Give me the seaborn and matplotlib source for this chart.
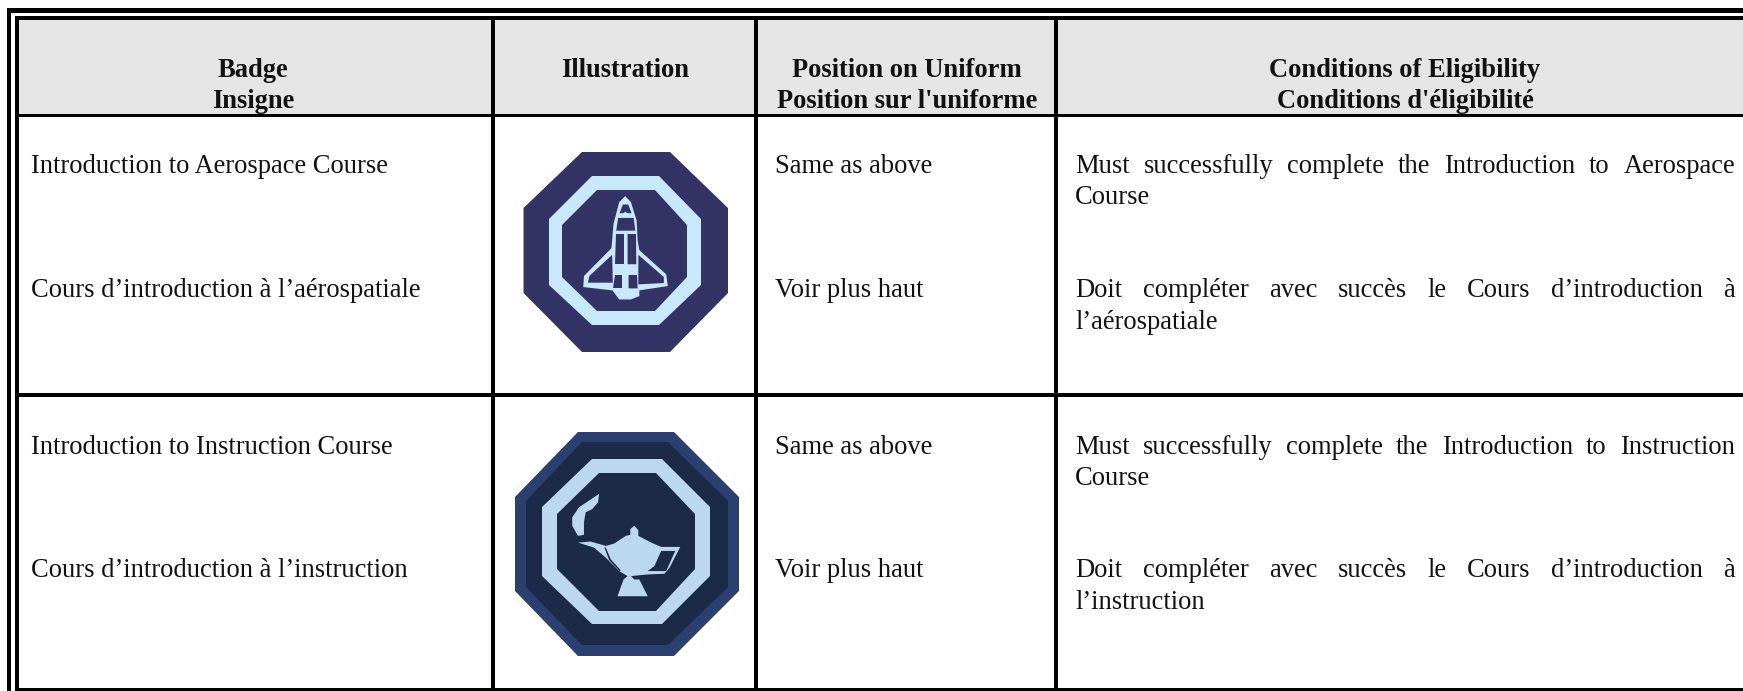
import matplotlib
matplotlib.use('Agg')
import matplotlib.pyplot as plt
from matplotlib.patches import Polygon, Rectangle
import seaborn as sns

headers = [['Badge', 'Insigne'], ['Illustration'],
           ['Position on Uniform', "Position sur l'uniforme"],
           ['Conditions of Eligibility', "Conditions d'éligibilité"]]
badge_en = ['Introduction to Aerospace Course', 'Introduction to Instruction Course']
badge_fr = ['Cours d’introduction à l’aérospatiale', 'Cours d’introduction à l’instruction']
position_en = ['Same as above', 'Same as above']
position_fr = ['Voir plus haut', 'Voir plus haut']
cond_en = [['Must successfully complete the Introduction to Aerospace', 'Course'],
           ['Must successfully complete the Introduction to Instruction', 'Course']]
cond_fr = [['Doit compléter avec succès le Cours d’introduction à', 'l’aérospatiale'],
           ['Doit compléter avec succès le Cours d’introduction à', 'l’instruction']]

# badge outlines (crop pixels, 2.98x)
shuttle_body = [(403, 197), (420, 215), (437, 270), (440, 330), (445, 358), (525, 430), (530, 465),
                (445, 478), (445, 495), (420, 505), (385, 505), (365, 478), (278, 468), (280, 435),
                (362, 352), (368, 280), (385, 215)]
shuttle_holes = [[(396, 222), (412, 222), (422, 248), (386, 248)],
                 [(382, 262), (428, 262), (433, 300), (376, 300)],
                 [(374, 310), (398, 310), (398, 400), (372, 400)],
                 [(410, 310), (435, 310), (436, 400), (410, 400)],
                 [(364, 372), (366, 455), (292, 455), (296, 435)],
                 [(442, 372), (518, 438), (518, 456), (442, 460)],
                 [(372, 432), (393, 432), (393, 472), (368, 472)],
                 [(413, 432), (438, 432), (440, 472), (413, 472)]]
shuttle_light = [[(386, 255), (403, 244), (422, 255), (420, 260), (388, 260)],
                 [(384, 420), (392, 408), (420, 408), (430, 420)]]
lamp_body = [(262, 395), (300, 392), (345, 405), (370, 398), (405, 375), (418, 372), (418, 355),
             (430, 345), (442, 358), (442, 375), (480, 395), (510, 408), (567, 408), (535, 470),
             (520, 488), (470, 490), (420, 495), (430, 505), (445, 505), (470, 555), (380, 555),
             (398, 505), (410, 495), (385, 480), (345, 440), (310, 410)]
lamp_handle = [(510, 420), (552, 420), (525, 480), (470, 480), (490, 465)]
lamp_flame = [(325, 250), (322, 275), (305, 295), (285, 305), (280, 335), (280, 372), (262, 375),
              (245, 345), (245, 320), (265, 290)]
lamp_crack = [(345, 410), (360, 445), (390, 478), (386, 480), (355, 447), (341, 410)]

HEADER_BG = '#e5e5e5'
SHUTTLE_DARK, SHUTTLE_LIGHT = '#343365', '#c8e8fb'
LAMP_EDGE, LAMP_DARK, LAMP_LIGHT = '#2b3f70', '#1b2a47', '#bcd8f0'
FS = 19.1

sns.set_theme(style='white')
plt.rcParams['font.family'] = ['Liberation Serif', 'DejaVu Serif']

fig = plt.figure(figsize=(17.43, 6.91), dpi=100)
ax = fig.add_axes([0, 0, 1, 1])
ax.set_xlim(0, 1743)
ax.set_ylim(691, 0)
ax.set_xticks([])
ax.set_yticks([])
sns.despine(ax=ax, left=True, bottom=True)


def box(x0, y0, x1, y1, color='black', z=2):
    ax.add_patch(Rectangle((x0, y0), x1 - x0, y1 - y0, fc=color, ec='none', zorder=z))


def octagon(x0, x1, y0, y1, fx0, fx1, fy0, fy1):
    return [(fx0, y0), (fx1, y0), (x1, fy0), (x1, fy1), (fx1, y1), (fx0, y1), (x0, fy1), (x0, fy0)]


def crop_pts(pts, ox, oy, s=2.98):
    return [(ox + a / s, oy + b / s) for a, b in pts]


def shape(pts, color, z=3):
    ax.add_patch(Polygon(pts, closed=True, fc=color, ec='none', zorder=z))


def justified(line, x0, x1, y):
    renderer = fig.canvas.get_renderer()
    parts = [ax.text(x0, y, w, fontsize=FS, va='baseline', color='#111111') for w in line.split()]
    widths = [p.get_window_extent(renderer).width for p in parts]
    gap = (x1 - x0 - sum(widths)) / (len(parts) - 1)
    x = x0
    for p, w in zip(parts, widths):
        p.set_x(x)
        x += w + gap


def plain(s, x, y, **kw):
    ax.text(x, y, s, fontsize=FS, va='baseline', color='#111111', **kw)


# header band and rules
box(19, 20, 1743, 114, HEADER_BG, z=1)
box(7.5, 8, 1743, 12.5)
box(15, 16, 1743, 20)
box(7.5, 8, 11.5, 691)
box(15, 16, 19.5, 688)
box(15, 113.7, 1743, 117)
box(15, 393, 1743, 396.7)
box(15, 687.7, 1743, 691)
for vx in [491.5, 754.5, 1054.5]:
    box(vx, 16, vx + 3.5, 691)

# header text
header_cx = [253, 625, 907, 1405]
for cx, lines in zip(header_cx, headers):
    for k, s in enumerate(lines):
        ax.text(cx, 77 + 31 * k, s, fontsize=FS, fontweight='bold', ha='center', va='baseline', color='#111111')

# body rows
row_en_y = [173, 454]
row_fr_y = [297, 577]
for i in range(2):
    y_en, y_fr = row_en_y[i], row_fr_y[i]
    plain(badge_en[i], 31, y_en)
    plain(badge_fr[i], 31, y_fr)
    plain(position_en[i], 775, y_en)
    plain(position_fr[i], 775, y_fr)
    justified(cond_en[i][0], 1075, 1735, y_en)
    plain(cond_en[i][1], 1075, y_en + 31)
    justified(cond_fr[i][0], 1075, 1735, y_fr)
    plain(cond_fr[i][1], 1075, y_fr + 32)

# shuttle badge
shape(octagon(523.5, 728, 152, 352, 582, 670, 208, 293), SHUTTLE_DARK)
shape(octagon(549, 701, 176, 325, 592, 659, 219, 285), SHUTTLE_LIGHT, 4)
shape(octagon(562, 687, 190, 311, 597, 655, 225, 277), SHUTTLE_DARK, 5)
shape(crop_pts(shuttle_body, 490, 130), SHUTTLE_LIGHT, 6)
for hole in shuttle_holes:
    shape(crop_pts(hole, 490, 130), SHUTTLE_DARK, 7)
for part in shuttle_light:
    shape(crop_pts(part, 490, 130), SHUTTLE_LIGHT, 8)

# lamp badge
shape(octagon(515, 739, 432, 656, 578, 674, 497, 591), LAMP_EDGE)
shape(octagon(526, 728, 442, 645, 582, 668, 501, 587), LAMP_DARK, 4)
shape(octagon(542, 710, 459, 624, 592, 662, 507, 576), LAMP_LIGHT, 5)
shape(octagon(557, 695, 473, 611, 599, 656, 514, 569), LAMP_DARK, 6)
shape(crop_pts(lamp_body, 490, 410), LAMP_LIGHT, 7)
shape(crop_pts(lamp_flame, 490, 410), LAMP_LIGHT, 7)
shape(crop_pts(lamp_handle, 490, 410), LAMP_DARK, 8)
shape(crop_pts(lamp_crack, 490, 410), LAMP_DARK, 8)

fig.savefig('out.png', dpi=100, facecolor='white')
